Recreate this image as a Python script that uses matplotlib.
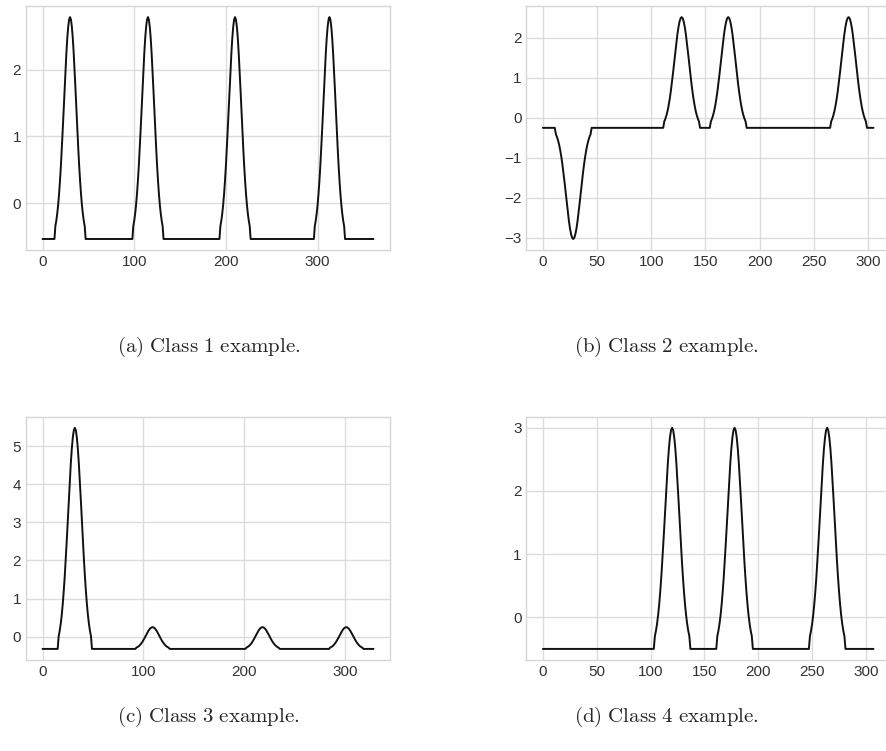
import numpy as np
import matplotlib
matplotlib.use("Agg")
import matplotlib.pyplot as plt
from matplotlib.ticker import MultipleLocator

plt.style.use("seaborn-v0_8-whitegrid")
plt.rcParams["font.family"] = ["Liberation Sans", "DejaVu Sans"]
plt.rcParams["mathtext.fontset"] = "cm"

# shape of one pulse (fraction of pulse height), offsets -17..17
half_pulse = [0.0, 0.058, 0.082, 0.113, 0.152, 0.201, 0.260, 0.328, 0.406,
              0.490, 0.579, 0.670, 0.757, 0.837, 0.905, 0.956, 0.989]
pulse = np.array(half_pulse + [1.0] + half_pulse[::-1])

# class 1
len1 = 362
base1 = -0.54
peaks1 = [30, 115, 210, 313]
tops1 = [2.79, 2.79, 2.79, 2.79]

# class 2
len2 = 306
base2 = -0.25
peaks2 = [28, 128, 171, 282]
tops2 = [-3.03, 2.52, 2.52, 2.52]

# class 3
len3 = 329
base3 = -0.32
peaks3 = [32, 109, 218, 301]
tops3 = [5.48, 0.25, 0.25, 0.25]

# class 4
len4 = 308
base4 = -0.5
peaks4 = [120, 178, 264]
tops4 = [3.0, 3.0, 3.0]

captions = ["(a)\\ Class\\ 1\\ example.", "(b)\\ Class\\ 2\\ example.",
            "(c)\\ Class\\ 3\\ example.", "(d)\\ Class\\ 4\\ example."]


def build(n, base, peaks, tops):
    y = np.full(n, base)
    for p, t in zip(peaks, tops):
        y[p - 17:p + 18] = base + (t - base) * pulse
    return y


series = [build(len1, base1, peaks1, tops1), build(len2, base2, peaks2, tops2),
          build(len3, base3, peaks3, tops3), build(len4, base4, peaks4, tops4)]
xsteps = [100, 50, 100, 50]

fig = plt.figure(figsize=(8.87, 7.51), dpi=100)
boxes = [[0.0293, 0.667, 0.4104, 0.325],
         [0.5934, 0.667, 0.41, 0.325],
         [0.0293, 0.1212, 0.4104, 0.3239],
         [0.5934, 0.1212, 0.41, 0.3239]]
cap_pos = [(0.235, 0.538), (0.751, 0.538), (0.235, 0.045), (0.751, 0.045)]

for i in range(4):
    ax = fig.add_axes(boxes[i])
    ax.plot(np.arange(len(series[i])), series[i], color="#111111", lw=1.4)
    ax.xaxis.set_major_locator(MultipleLocator(xsteps[i]))
    ax.yaxis.set_major_locator(MultipleLocator(1))
    ax.tick_params(labelsize=11, colors="#333333")
    ax.grid(color="#dcdcdc", lw=1)
    for s in ax.spines.values():
        s.set_color("#d6d6d6")
    fig.text(cap_pos[i][0], cap_pos[i][1], "$\\mathrm{" + captions[i] + "}$",
             ha="center", va="center", fontsize=15)

fig.savefig("out.png", dpi=100)
